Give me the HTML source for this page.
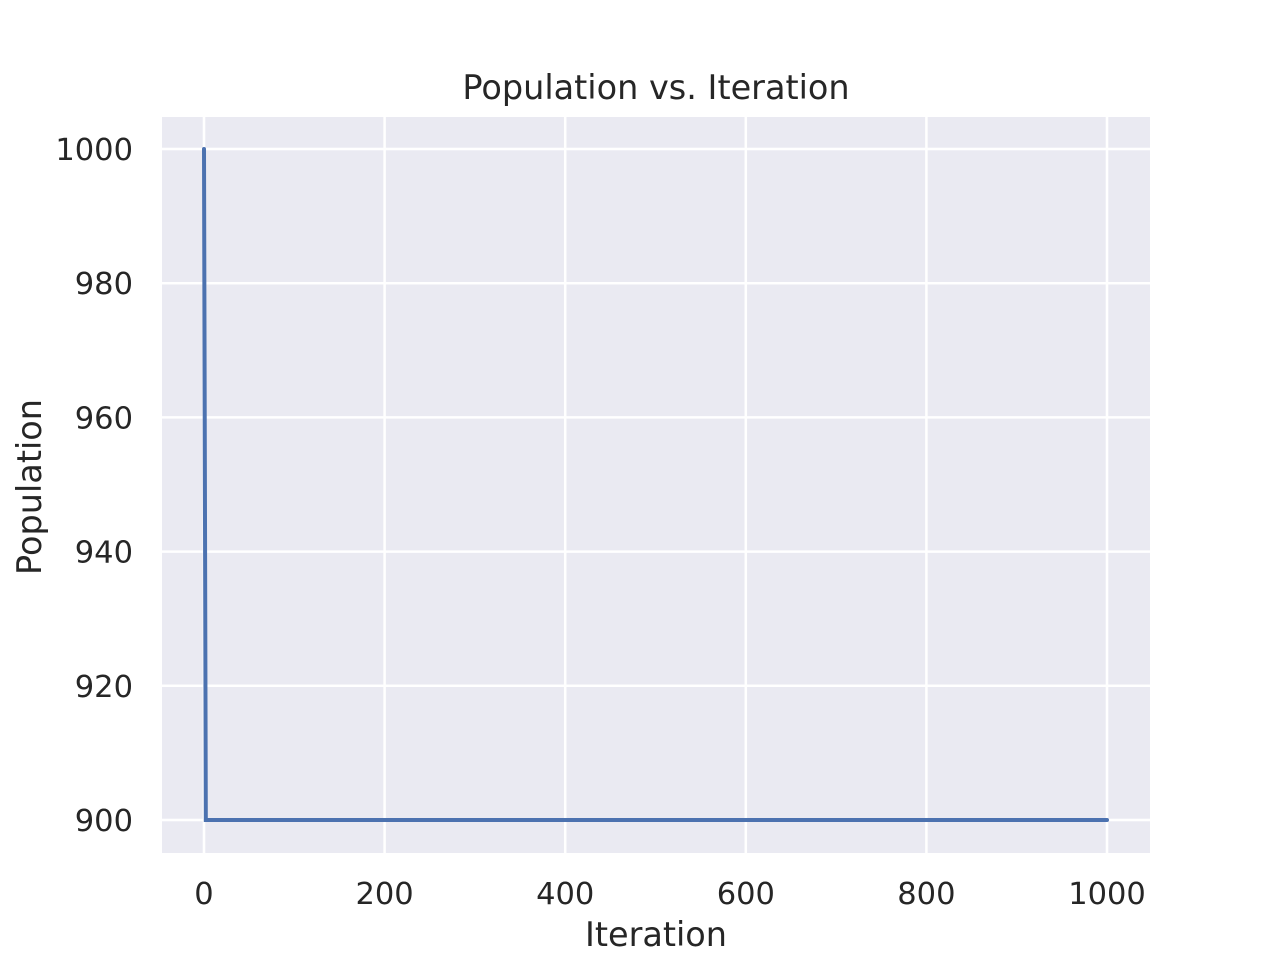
<!DOCTYPE html>
<html><head><meta charset="utf-8"><style>
html,body{margin:0;padding:0;background:#fff;}
svg text{font-family:"DejaVu Sans","Liberation Sans",sans-serif;fill:#262626;}
</style></head><body>
<svg id="chart" width="1280" height="960" xmlns="http://www.w3.org/2000/svg">
<rect x="162" y="117" width="988" height="736" fill="#eaeaf2"/>
<g id="grid"></g>
<g id="ticks"></g>
<g id="series"></g>
<text x="656" y="99" font-size="33.5" text-anchor="middle">Population vs. Iteration</text>
<text x="656" y="946" font-size="33.5" text-anchor="middle">Iteration</text>
<text transform="translate(41,487) rotate(-90)" font-size="33.5" text-anchor="middle">Population</text>
</svg>
<script>
const xTicks = [0, 200, 400, 600, 800, 1000];
const yTicks = [900, 920, 940, 960, 980, 1000];
const iterations = [0, 2, 1000];
const population = [1000, 900, 900];

const NS = "http://www.w3.org/2000/svg";
function sx(v){ return 204 + (v - 0) * (1107 - 204) / 1000; }
function sy(v){ return 820 - (v - 900) * (820 - 149) / 100; }
const grid = document.getElementById('grid');
const ticks = document.getElementById('ticks');
xTicks.forEach(t => {
  const l = document.createElementNS(NS, 'line');
  
  
  l.setAttribute('x1', sx(t)); l.setAttribute('x2', sx(t));
  l.setAttribute('y1', 117); l.setAttribute('y2', 853);
  l.setAttribute('stroke', '#fff'); l.setAttribute('stroke-width', 2.5);
  grid.appendChild(l);
  const tx = document.createElementNS(NS, 'text');
  
  
  tx.setAttribute('x', sx(t)); tx.setAttribute('y', 904);
  tx.setAttribute('font-size', 30.5); tx.setAttribute('text-anchor', 'middle');
  tx.textContent = t;
  ticks.appendChild(tx);
});
yTicks.forEach(t => {
  const l = document.createElementNS(NS, 'line');
  
  
  l.setAttribute('x1', 162); l.setAttribute('x2', 1150);
  l.setAttribute('y1', sy(t)); l.setAttribute('y2', sy(t));
  l.setAttribute('stroke', '#fff'); l.setAttribute('stroke-width', 2.5);
  grid.appendChild(l);
  const tx = document.createElementNS(NS, 'text');
  
  
  tx.setAttribute('x', 133); tx.setAttribute('y', sy(t) + 11);
  tx.setAttribute('font-size', 30.5); tx.setAttribute('text-anchor', 'end');
  tx.textContent = t;
  ticks.appendChild(tx);
});
const p = document.createElementNS(NS, 'polyline');


p.setAttribute('points', iterations.map((x, i) => sx(x) + ',' + sy(population[i])).join(' '));
p.setAttribute('fill', 'none'); p.setAttribute('stroke', '#4c72b0');
p.setAttribute('stroke-width', 4); p.setAttribute('stroke-linecap', 'round');
document.getElementById('series').appendChild(p);
</script>
</body></html>
